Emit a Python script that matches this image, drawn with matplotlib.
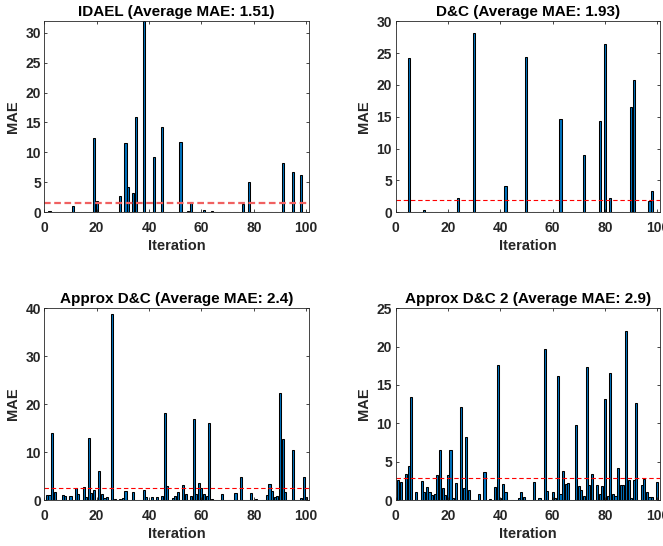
import matplotlib
matplotlib.use('Agg')
import matplotlib.pyplot as plt
import numpy as np

plt.rcParams['font.family'] = ['Liberation Sans', 'DejaVu Sans']
plt.rcParams['font.weight'] = 'bold'

iterations = np.arange(1, 101)

# MAE per iteration (10 values per row)
idael = [0, 0.2, 0, 0, 0, 0, 0, 0, 0, 0,
         1.0, 0, 0, 0, 0, 0, 0, 0, 12.4, 1.9,
         0, 0, 0, 0, 0, 0, 0, 0, 2.7, 0,
         11.6, 4.2, 0, 3.2, 15.9, 0, 0, 31.9, 0, 0,
         0, 9.2, 0, 0, 14.2, 0, 0, 0, 0, 0,
         0, 11.8, 0, 0, 0.3, 1.7, 0, 0, 0, 0,
         0.35, 0, 0, 0.3, 0, 0, 0, 0, 0, 0,
         0, 0, 0, 0, 0, 1.4, 0, 5.1, 0, 0,
         0, 0, 0, 0, 0, 0, 0, 0, 0, 0,
         8.2, 0, 0, 0, 6.8, 0, 0, 6.2, 0, 0]

dc = [0, 0, 0, 0, 24.3, 0.1, 0.1, 0, 0, 0,
      0.3, 0, 0, 0, 0, 0, 0, 0, 0, 0,
      0, 0, 0, 2.2, 0, 0, 0, 0, 0, 28.1,
      0, 0, 0, 0, 0, 0, 0, 0, 0, 0,
      0, 4.2, 0, 0, 0, 0, 0, 0, 0, 24.4,
      0, 0, 0, 0, 0, 0, 0, 0, 0, 0,
      0, 0, 14.7, 0, 0, 0, 0, 0, 0, 0,
      0, 9.0, 0, 0, 0, 0, 0, 14.4, 0, 26.4,
      0, 2.3, 0, 0, 0, 0, 0, 0, 0, 16.6,
      20.8, 0, 0, 0, 0, 0, 1.8, 3.3, 0, 0]

approx_dc = [1.0, 1.0, 14.0, 1.6, 0.1, 0, 1.0, 0.8, 0, 0.8,
             0, 2.6, 1.2, 0, 2.8, 0.6, 13.0, 1.5, 2.1, 0,
             6.0, 1.2, 0.5, 0.7, 0, 38.9, 0.3, 0, 0.2, 0.4,
             1.9, 0, 0, 1.6, 0, 0, 0, 2.0, 0.7, 0,
             0.7, 0, 0.6, 0, 0.9, 18.1, 3.0, 0, 0.5, 0.8,
             1.7, 0, 3.1, 1.2, 0, 0.8, 16.8, 1.2, 3.5, 2.6,
             1.2, 0.8, 16.1, 0.3, 0.1, 0.1, 0.1, 1.2, 0, 0,
             0, 0, 1.4, 0, 4.8, 0, 0, 0, 1.4, 0,
             0.2, 0, 0, 0, 1.0, 3.3, 1.9, 0.6, 0.8, 22.4,
             12.8, 1.6, 0, 0, 10.4, 0, 0, 0.4, 4.7, 0.6]

approx_dc2 = [2.6, 2.4, 0, 3.45, 4.4, 13.4, 0, 1.0, 0, 2.5,
              1.0, 1.7, 1.1, 0.6, 0.8, 3.2, 6.5, 1.5, 0.6, 3.2,
              6.5, 0.2, 2.2, 0, 12.1, 1.5, 8.2, 1.3, 0, 0,
              0, 0.8, 0, 3.6, 0, 0.1, 0, 1.7, 17.6, 0.2,
              2.1, 1.0, 0, 0, 0, 0, 0.3, 1.1, 0.4, 0,
              0, 0, 2.4, 0, 0.3, 0, 19.65, 1.2, 0, 1.1,
              0.3, 16.2, 0.8, 3.8, 2.1, 2.2, 0, 0, 9.8, 1.8,
              1.3, 0.5, 17.4, 2.0, 3.4, 0, 2.0, 0.8, 1.8, 13.2,
              0.5, 16.6, 0.8, 0.5, 4.2, 1.9, 1.95, 22.0, 2.6, 0.25,
              2.6, 12.7, 0, 1.9, 2.7, 1.0, 0.4, 0.4, 0, 2.4]

names = ['IDAEL', 'D&C', 'Approx D&C', 'Approx D&C 2']
averages = ['1.51', '1.93', '2.4', '2.9']
series = [idael, dc, approx_dc, approx_dc2]
ytops = [max(idael), 30, 40, 25]
ysteps = [5, 5, 10, 5]

W, H = 663, 546
fig = plt.figure(figsize=(W / 100, H / 100), dpi=100)

# axes boxes in pixels: left, top, width, height
boxes = [(44.3, 21.3, 264.5, 191.0),
         (395.5, 21.3, 264.5, 191.0),
         (44.3, 308.3, 264.5, 191.7),
         (395.5, 308.3, 264.5, 191.7)]

dark = '#262626'
for k in range(4):
    l, t, w, h = boxes[k]
    ax = fig.add_axes([l / W, 1 - (t + h) / H, w / W, h / H])
    ax.bar(iterations, series[k], width=0.8, color='#0072BD',
           edgecolor='black', linewidth=0.75)
    avg = float(averages[k])
    if k == 0:
        ax.axhline(avg, color='#f06060', linestyle=(0, (3, 1.6)), linewidth=1.6)
    else:
        ax.axhline(avg, color='red', linestyle=(0, (4, 2.5)), linewidth=0.8)
    ax.set_xlim(0, 101)
    ax.set_ylim(0, ytops[k])
    ax.set_xticks(np.arange(0, 101, 20))
    ax.set_yticks(np.arange(0, ytops[k] + 0.01, ysteps[k]))
    ax.tick_params(direction='in', length=2.5, width=0.6, top=True, right=True,
                   labelsize=10, colors=dark)
    ax.tick_params(axis='x', pad=6.5)
    ax.tick_params(axis='y', pad=2.5)
    for lab in ax.get_xticklabels() + ax.get_yticklabels():
        lab.set_fontweight('bold')
    for sp in ax.spines.values():
        sp.set_linewidth(0.6)
        sp.set_color(dark)
    ax.set_title('%s (Average MAE: %s)' % (names[k], averages[k]),
                 fontsize=11, fontweight='bold', color='black', pad=3.5)
    ax.set_xlabel('Iteration', fontsize=10.5, fontweight='bold', color=dark, labelpad=3)
    ax.set_ylabel('MAE', fontsize=10.5, fontweight='bold', color=dark, labelpad=4)

fig.savefig('out.png', dpi=100)
